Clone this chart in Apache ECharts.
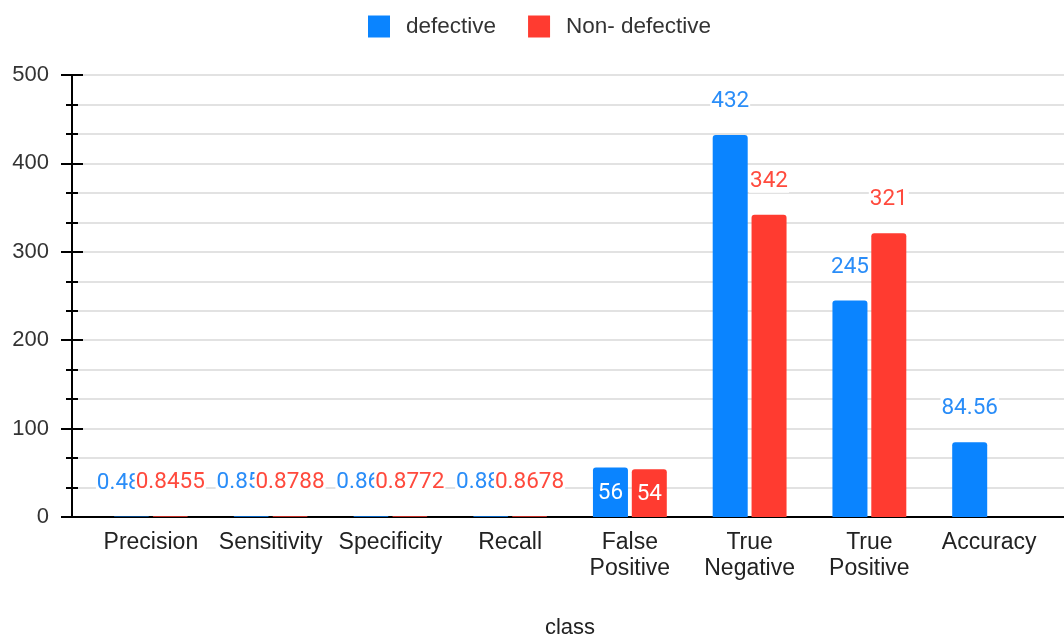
<!DOCTYPE html>
<html>
<head>
<meta charset="utf-8">
<script src="https://cdn.jsdelivr.net/npm/echarts@6/dist/echarts.min.js"></script>
<style>
  html, body { margin: 0; padding: 0; background: #fff; }
  #chart { width: 1064px; height: 637px; }
</style>
</head>
<body>
<div id="chart"></div>
<script>
// Metrics per class
const categories = ['Precision', 'Sensitivity', 'Specificity', 'Recall', 'False\nPositive', 'True\nNegative', 'True\nPositive', 'Accuracy'];
const seriesNames = ['defective', 'Non- defective'];
const defective = [0.4812, 0.8534, 0.8623, 0.8845, 56, 432, 245, 84.56];
const nonDefective = [0.8455, 0.8788, 0.8772, 0.8678, 54, 342, 321, null];
const yTicks = [0, 100, 200, 300, 400, 500];

const BLUE = '#0a84ff';
const RED = '#ff3b30';
const BLUE_TXT = '#2a8df8';
const RED_TXT = '#ff4a3d';

// Counts of false positives are labelled inside their bars
const insideCategory = 'False\nPositive';

function buildData(values) {
  return values.map((v, i) => {
    if (categories[i] === insideCategory) {
      return {
        value: v,
        label: { position: 'insideTop', distance: 14, color: '#fff', backgroundColor: 'transparent' }
      };
    }
    return v;
  });
}

const yMin = yTicks[0];
const yMax = yTicks[yTicks.length - 1];
const yStep = yTicks[1] - yTicks[0];

const chart = echarts.init(document.getElementById('chart'));

const valueLabel = (color) => ({
  show: true,
  position: 'top',
  distance: 22,
  color: color,
  fontFamily: 'Roboto',
  fontSize: 22.5,
  backgroundColor: '#fff',
  padding: [0, 1],
  formatter: (p) => String(p.value)
});

chart.setOption({
  animation: false,
  backgroundColor: '#fff',
  legend: {
    top: 10,
    left: 363,
    itemWidth: 22,
    itemHeight: 22,
    itemGap: 32,
    icon: 'rect',
    itemStyle: { borderRadius: 2 },
    textStyle: { fontFamily: 'Liberation Sans', fontSize: 22.5, color: '#333', padding: [0, 0, 0, 11] },
    data: seriesNames
  },
  grid: [
    // frame grid: axes, ticks and grid lines
    { left: 72, right: 0, top: 75, bottom: 120, outerBoundsMode: 'none' },
    // bar grid
    { left: 91, right: 15, top: 75, bottom: 120, outerBoundsMode: 'none' }
  ],
  xAxis: [
    {
      type: 'category', gridIndex: 0, data: categories,
      axisLine: { lineStyle: { color: '#000', width: 2 } },
      axisTick: { show: false }, axisLabel: { show: false }
    },
    {
      type: 'category', gridIndex: 1, data: categories,
      name: 'class', nameLocation: 'middle', nameGap: 100,
      nameTextStyle: { fontFamily: 'Liberation Sans', fontSize: 22, color: '#222' },
      axisLine: { show: false }, axisTick: { show: false },
      axisLabel: { fontFamily: 'Liberation Sans', fontSize: 23, color: '#222', lineHeight: 26, margin: 13, interval: 0 }
    }
  ],
  yAxis: [
    {
      type: 'value', gridIndex: 0, min: yMin, max: yMax, interval: yStep,
      axisLine: { show: true, lineStyle: { color: '#000', width: 2 } },
      axisTick: { show: true, length: 11, lineStyle: { color: '#000', width: 2 } },
      minorTick: { show: true, splitNumber: 3, length: 6, lineStyle: { color: '#000', width: 2 } },
      splitLine: { show: true, lineStyle: { color: '#d9d9d9', width: 1.5 } },
      minorSplitLine: { show: true, lineStyle: { color: '#d9d9d9', width: 1.5 } },
      axisLabel: { fontFamily: 'Liberation Sans', fontSize: 22, color: '#333', margin: 23 }
    },
    {
      type: 'value', gridIndex: 0, min: yMin, max: yMax, interval: yStep, position: 'left',
      axisLine: { show: false },
      axisTick: { show: true, inside: true, length: 11, lineStyle: { color: '#000', width: 2 } },
      minorTick: { show: true, splitNumber: 3, length: 6, lineStyle: { color: '#000', width: 2 } },
      splitLine: { show: false }, axisLabel: { show: false }
    },
    {
      type: 'value', gridIndex: 1, min: yMin, max: yMax, interval: yStep, show: false
    }
  ],
  series: [
    {
      name: seriesNames[0], type: 'bar', xAxisIndex: 1, yAxisIndex: 2,
      barWidth: 35, barGap: '11%',
      itemStyle: { color: BLUE, borderRadius: [3, 3, 0, 0] },
      label: valueLabel(BLUE_TXT),
      data: buildData(defective)
    },
    {
      name: seriesNames[1], type: 'bar', xAxisIndex: 1, yAxisIndex: 2,
      barWidth: 35, barGap: '11%',
      itemStyle: { color: RED, borderRadius: [3, 3, 0, 0] },
      label: valueLabel(RED_TXT),
      data: buildData(nonDefective)
    }
  ]
});
</script>
</body>
</html>
